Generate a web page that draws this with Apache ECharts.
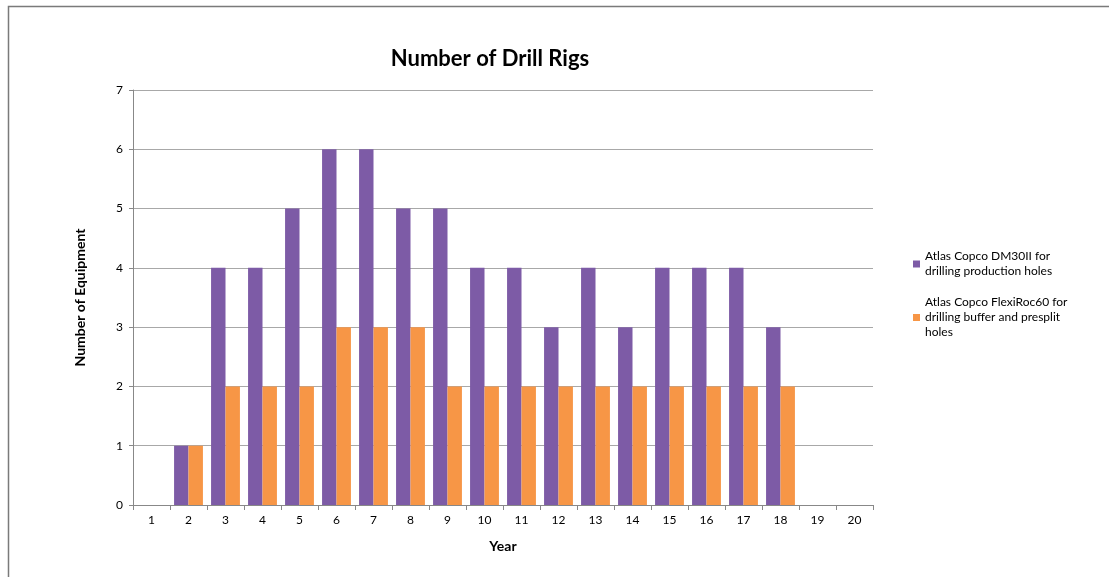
<!DOCTYPE html>
<html><head><meta charset="utf-8">
<script src="https://cdn.jsdelivr.net/npm/echarts@6/dist/echarts.min.js"></script>
<style>html,body{margin:0;padding:0;background:#fff}#c{width:1109px;height:577px}</style>
</head><body><div id="c"></div>
<script>
const years = ['1','2','3','4','5','6','7','8','9','10','11','12','13','14','15','16','17','18','19','20'];
const dm30 = [0,1,4,4,5,6,6,5,5,4,4,3,4,3,4,4,4,3,0,0];
const flexi = [0,1,2,2,2,3,3,3,2,2,2,2,2,2,2,2,2,2,0,0];
const seriesNames = ['Atlas Copco DM30II for\ndrilling production holes','Atlas Copco FlexiRoc60 for\ndrilling buffer and presplit\nholes'];
const yTicks = [0,1,2,3,4,5,6,7];

const chart = echarts.init(document.getElementById('c'));
const F = 'Lato, "Open Sans", sans-serif';
chart.setOption({
  animation:false,
  backgroundColor:'#fff',
  graphic:[{type:'rect',shape:{x:8.5,y:6.5,width:1200,height:700},style:{fill:'none',stroke:'#7a7a7a',lineWidth:1.5}}],
  title:{text:'Number of Drill Rigs',left:485,top:43,textAlign:'center',textStyle:{fontFamily:F,fontSize:22,fontWeight:'bold',color:'#000'}},
  legend:{orient:'vertical',left:908,top:244,itemWidth:7,itemHeight:7,itemGap:16,icon:'rect',
    textStyle:{fontFamily:F,fontSize:12,color:'#000',lineHeight:15},
    data:seriesNames},
  grid:{left:133,right:236,top:90,bottom:72},
  xAxis:{type:'category',data:years,name:'Year',nameLocation:'middle',nameGap:34,
    nameTextStyle:{fontFamily:F,fontSize:14,fontWeight:'bold',color:'#000'},
    axisLine:{lineStyle:{color:'#888'}},axisTick:{show:true,length:5,lineStyle:{color:'#888'}},
    axisLabel:{fontFamily:F,fontSize:12,color:'#000',margin:9}},
  yAxis:{type:'value',min:0,max:7,interval:1,name:'Number of Equipment',nameLocation:'middle',nameGap:46,
    nameTextStyle:{fontFamily:F,fontSize:14,fontWeight:'bold',color:'#000'},
    axisLine:{show:true,lineStyle:{color:'#888'}},axisTick:{show:true,length:4,lineStyle:{color:'#888'}},
    axisLabel:{fontFamily:F,fontSize:12,color:'#000',margin:10,formatter:v=>yTicks.includes(v)?String(v):''},
    splitLine:{lineStyle:{color:'#a8a8a8'}}},
  series:[
    {name:seriesNames[0],type:'bar',data:dm30,barGap:'0%',barCategoryGap:'22%',itemStyle:{color:'#7D5BA6'}},
    {name:seriesNames[1],type:'bar',data:flexi,barGap:'0%',barCategoryGap:'22%',itemStyle:{color:'#F79646'}}
  ]
});
</script></body></html>
